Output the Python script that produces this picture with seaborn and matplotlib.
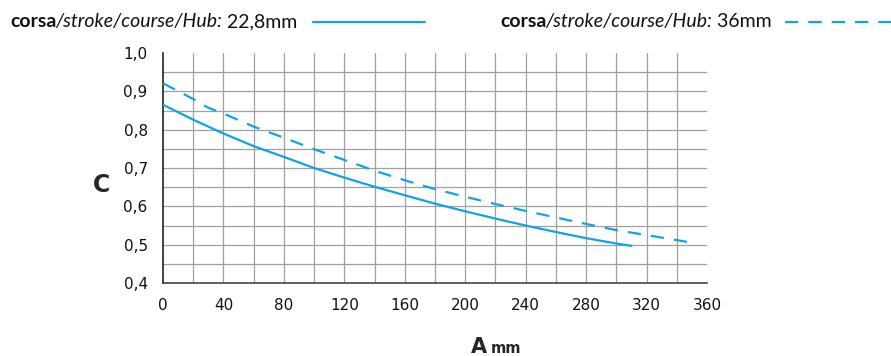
import numpy as np
import pandas as pd
import seaborn as sns
import matplotlib.pyplot as plt
from matplotlib.lines import Line2D

# 数据: 行程 22,8mm 与 36mm
a_228 = [0, 20, 40, 60, 80, 100, 120, 140, 160, 180, 200, 220, 240, 260, 280, 300, 310]
c_228 = [0.865, 0.826, 0.790, 0.757, 0.729, 0.700, 0.675, 0.651, 0.629, 0.607,
         0.587, 0.568, 0.550, 0.533, 0.517, 0.503, 0.497]
a_36 = [0, 20, 30, 40, 60, 80, 100, 120, 140, 160, 180, 200, 220, 240, 260, 280,
        300, 320, 340, 350]
c_36 = [0.921, 0.880, 0.857, 0.842, 0.808, 0.779, 0.749, 0.721, 0.693, 0.668,
        0.645, 0.625, 0.606, 0.588, 0.571, 0.554, 0.538, 0.525, 0.512, 0.505]
hub_labels = ['22,8mm', '36mm']
x_ticks = list(range(0, 361, 40))
y_ticks = [0.4, 0.5, 0.6, 0.7, 0.8, 0.9, 1.0]
y_ticklabels = ['0,4', '0,5', '0,6', '0,7', '0,8', '0,9', '1,0']

df = pd.concat([
    pd.DataFrame({'A': a_228, 'C': c_228, 'Hub': hub_labels[0]}),
    pd.DataFrame({'A': a_36, 'C': c_36, 'Hub': hub_labels[1]}),
])

sns.set_style("white")
plt.rcParams['font.family'] = ['DejaVu Sans']

blue = '#12a4e2'
grid_c = '#a0a0a0'

fig = plt.figure(figsize=(8.91, 3.56), dpi=100)
ax = fig.add_axes([163 / 891, 1 - 283 / 356, 544 / 891, 230 / 356])

# 网格线 (手动画, 顶部和右侧没有)
for gx in range(20, 341, 20):
    ax.axvline(gx, color=grid_c, lw=0.9, zorder=0)
for gy in np.arange(0.45, 0.96, 0.05):
    ax.axhline(gy, color=grid_c, lw=0.9, zorder=0)

sns.lineplot(data=df, x='A', y='C', style='Hub', color=blue, linewidth=1.6,
             dashes={hub_labels[0]: '', hub_labels[1]: (6, 4.5)},
             legend=False, ax=ax, zorder=3)

ax.set_xlim(0, 360)
ax.set_ylim(0.4, 1.0)
ax.set_xticks(x_ticks)
ax.set_xticks(range(20, 361, 40), minor=True)
ax.set_yticks(y_ticks)
ax.set_yticklabels(y_ticklabels)
ax.set_xlabel('')
ax.set_ylabel('')
for s in ['top', 'right']:
    ax.spines[s].set_visible(False)
ax.spines['left'].set_color('#222222')
ax.spines['bottom'].set_color('#444444')
ax.spines['left'].set_linewidth(1.2)
ax.spines['bottom'].set_linewidth(1.2)
ax.tick_params(axis='both', which='both', direction='out', length=5, width=1.1,
               colors='#333333', labelcolor='#111111', labelsize=11)
ax.tick_params(axis='x', pad=6)
ax.tick_params(axis='y', pad=6)

# 轴标题
fig.text(101 / 891, 1 - 185 / 356, 'C', fontsize=17, fontweight='bold',
         ha='center', va='center')
fig.text(479 / 891, 1 - 353 / 356, 'A', fontsize=15, fontweight='bold',
         ha='center', va='baseline')
fig.text(491 / 891, 1 - 353 / 356, 'mm', fontsize=10.5, fontweight='bold',
         ha='left', va='baseline')

# 图例 (上方, 混合字体)
fig.canvas.draw()
renderer = fig.canvas.get_renderer()


def legend_text(x0, hub):
    parts = [('corsa', 'normal', 'bold', -1), ('/stroke/course/Hub:', 'italic', 'normal', 0),
             (' ' + hub, 'normal', 'normal', 0)]
    x = x0
    for txt, st, wt, adj in parts:
        t = fig.text(x / 891, 1 - 27 / 356, txt, fontsize=14, style=st, fontweight=wt,
                     family='Lato', ha='left', va='baseline', color='#111111')
        bb = t.get_window_extent(renderer)
        x += bb.width + adj
    return x


legend_text(10, hub_labels[0])
legend_text(500, hub_labels[1])
fig.add_artist(Line2D([313 / 891, 425 / 891], [1 - 22 / 356] * 2, color=blue, lw=1.6))
fig.add_artist(Line2D([785 / 891, 891 / 891], [1 - 22 / 356] * 2, color=blue, lw=1.6,
                      dashes=(6, 4.5)))

fig.savefig('out.png', dpi=100)
